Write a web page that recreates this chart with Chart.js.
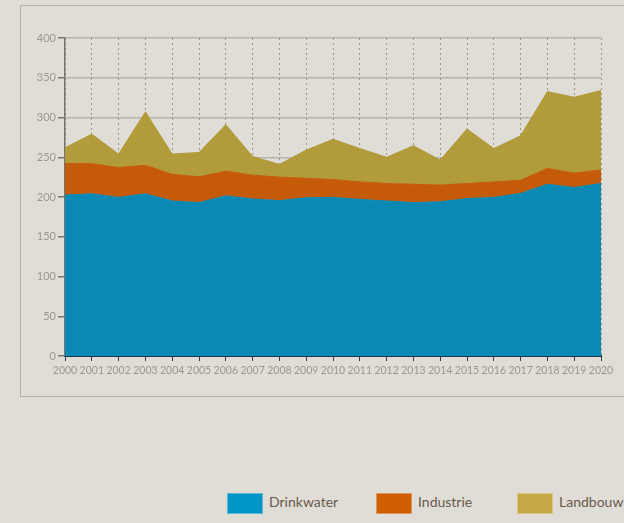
<!DOCTYPE html>
<html lang="nl">
<head>
    <meta charset="UTF-8">
    <title>Watergebruik</title>
    <script src="https://cdn.jsdelivr.net/npm/chart.js@4/dist/chart.umd.min.js"></script>
    <style>
        html, body { margin: 0; padding: 0; background: #e0ddd7; overflow: hidden; }
        body { width: 624px; height: 523px; position: relative; font-family: Lato, sans-serif; }
        #frame { position: absolute; left: 20px; top: 5px; width: 700px; height: 390px; border: 1px solid #b3afa9; }
        #chartBox { position: absolute; left: 0; top: 0; width: 624px; height: 400px; }
        #legend { position: absolute; left: 227px; top: 493px; white-space: nowrap; }
        .swatch { display: inline-block; width: 34px; height: 19px; vertical-align: top; border: 1px solid rgba(255,255,255,0.35); }
        .label { display: inline-block; vertical-align: top; margin-left: 6px; font-size: 14px; line-height: 18px; color: #6b5a49; }
    </style>
</head>
<body>
    <div id="frame"></div>
    <div id="chartBox"><canvas id="waterChart"></canvas></div>
    <div id="legend"></div>

    <script>
        // ***********
        // Data (miljoen m3 per jaar, gestapeld)
        // ***********
        var years = ['2000', '2001', '2002', '2003', '2004', '2005', '2006', '2007', '2008', '2009', '2010',
                     '2011', '2012', '2013', '2014', '2015', '2016', '2017', '2018', '2019', '2020'];
        var drinkwater = [202.5, 204, 199.5, 204, 195, 193, 201.5, 197.5, 195.5, 199, 199.5,
                          197, 195, 193, 194, 198, 199.5, 204.5, 216, 212, 217];
        var industrie = [39.5, 38, 37.5, 36, 33.5, 32.5, 31, 30, 29.5, 24.5, 22.5,
                         22, 22, 23, 21, 19, 19.5, 16.5, 20, 18, 17];
        var landbouw = [20, 37, 17, 67, 25.5, 30.5, 58.5, 23.5, 16, 35.5, 50.5,
                        42, 33, 48.5, 31.5, 68.5, 42, 56, 96.5, 95.5, 100];
        var yTicks = [0, 50, 100, 150, 200, 250, 300, 350, 400];

        var seriesNames = ['Drinkwater', 'Industrie', 'Landbouw'];
        var areaColors = ['#0a89b5', '#c55b08', '#b19b3b'];
        var legendColors = ['#0094c7', '#cf5e00', '#c4a944'];

        // Build one stacked area dataset
        function areaSet(idx, values) {
            return {
                label: seriesNames[idx],
                data: values,
                backgroundColor: areaColors[idx],
                borderColor: areaColors[idx],
                borderWidth: 1,
                pointRadius: 0,
                tension: 0,
                fill: idx === 0 ? 'origin' : '-1'
            };
        } // END: areaSet

        var tickFont = { family: 'Lato', size: 10.5 };

        new Chart(document.getElementById('waterChart'), {
            type: 'line',
            data: {
                labels: years,
                datasets: [areaSet(0, drinkwater), areaSet(1, industrie), areaSet(2, landbouw)]
            },
            options: {
                responsive: true,
                maintainAspectRatio: false,
                animation: false,
                layout: { padding: { left: 0, right: 23, top: 38, bottom: 0 } },
                plugins: { legend: { display: false }, tooltip: { enabled: false } },
                scales: {
                    x: {
                        z: 1,
                        offset: false,
                        afterFit: function(scale) { scale.height = 44; },
                        grid: { color: 'rgba(60,50,40,0.42)', lineWidth: 1, tickLength: 5, tickColor: '#2b3f4d' },
                        border: { display: true, color: '#1f3444', width: 2, dash: [2, 3] },
                        ticks: { color: '#9b9792', font: tickFont, autoSkip: false, maxRotation: 0, padding: 3 }
                    },
                    y: {
                        z: 1,
                        stacked: true,
                        min: 0,
                        max: 400,
                        afterFit: function(scale) { scale.width = 65; },
                        afterBuildTicks: function(scale) { scale.ticks = yTicks.map(function(v) { return { value: v }; }); },
                        grid: { color: 'rgba(40,35,30,0.22)', lineWidth: 1.5, tickLength: 7, tickColor: '#7a7772' },
                        border: { display: true, color: '#77736e', width: 1.5 },
                        ticks: { color: '#9b9792', font: { family: 'Lato', size: 11 }, padding: 2 }
                    }
                }
            }
        });

        // HTML legend
        var legend = document.getElementById('legend');
        var offsets = [0, 149, 290];
        seriesNames.forEach(function(name, i) {
            var item = document.createElement('span');
            item.innerHTML = '<span class="swatch" style="background:' + legendColors[i] + '"></span>' +
                             '<span class="label">' + name + '</span>';
            item.style.position = 'absolute';
            item.style.left = offsets[i] + 'px';
            legend.appendChild(item);
        });
    </script>
</body>
</html>
